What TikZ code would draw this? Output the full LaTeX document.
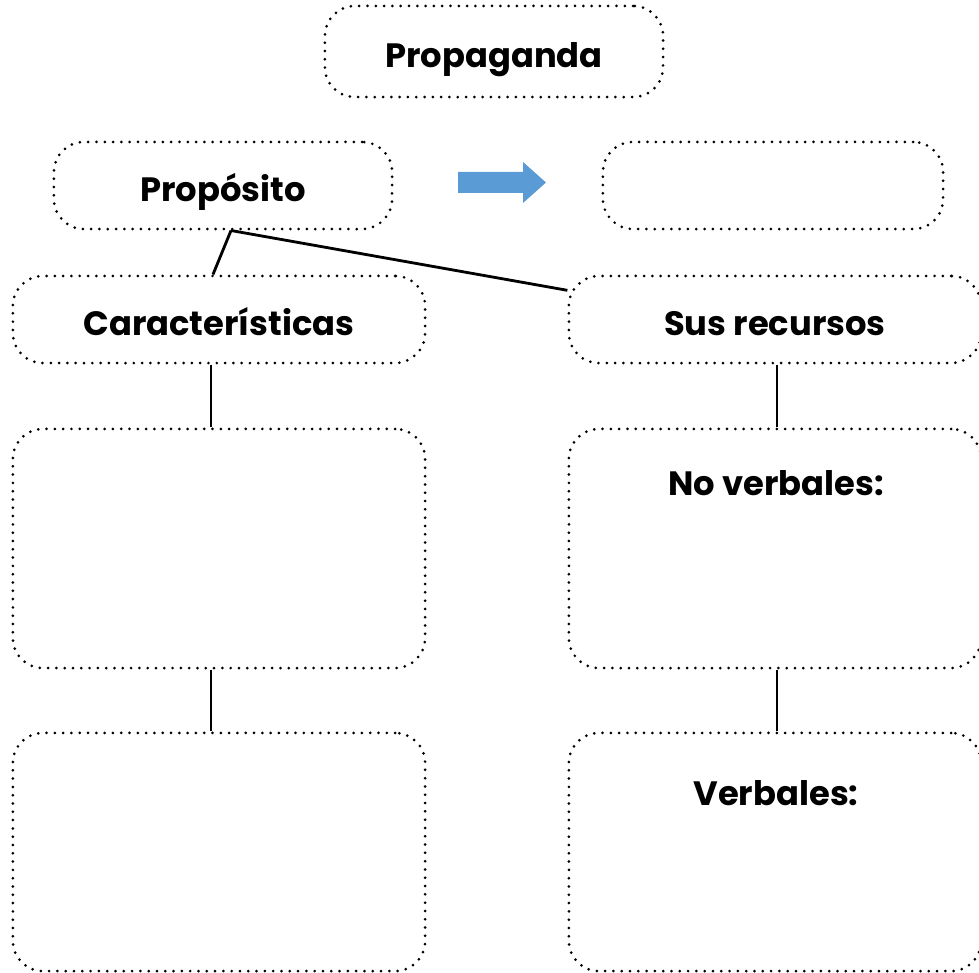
\documentclass[tikz,border=0pt]{standalone}
\usepackage{fontspec}
\setmainfont{Poppins}
\definecolor{arrowblue}{RGB}{91,155,213}
\tikzset{
  lbl/.style={font=\fontsize{9.6pt}{11pt}\selectfont\bfseries,
    text height=9pt, text depth=0pt, inner sep=0pt},
  bubble/.style={lbl, draw, line width=0.85pt, line cap=round,
    dash pattern=on 0pt off 2.36pt, rounded corners=0.3cm},
  wide/.style={bubble, minimum width=4.12cm},
  link/.style={line width=0.8pt}
}
\begin{document}
\begin{tikzpicture}[x=0.01cm,y=-0.01cm]
            \useasboundingbox (0,0) rectangle (979,973);
            \node[bubble, minimum width=3.38cm, minimum height=0.91cm] (prop) at (494,51.5) {Propaganda};
            \node[bubble, minimum width=3.38cm, minimum height=0.87cm] (purp) at (223,185.5) {Propósito};
            \node[bubble, minimum width=3.40cm, minimum height=0.87cm] (blank) at (773,185.5) {};
            \node[wide, minimum height=0.87cm] (car) at (219,319.5) {Características};
            \node[wide, minimum height=0.87cm] (sus) at (775,319.5) {Sus recursos};
            \node[wide, minimum height=2.39cm] (lb1) at (219,548.5) {};
            \node[wide, minimum height=2.39cm] (rb1) at (775,548.5) {};
            \node[wide, minimum height=2.38cm] (lb2) at (219,852) {};
            \node[wide, minimum height=2.38cm] (rb2) at (775,852) {};
            \node[lbl] (nv) at (776,479.5) {No verbales:};
            \node[lbl] (vb) at (776,790) {Verbales:};
            % blue arrow
            \fill[arrowblue] (458,172) -- (523,172) -- (523,162) -- (546,182.5)
              -- (523,203) -- (523,193) -- (458,193) -- cycle;
            \coordinate (fork) at ([xshift=0.08cm]purp.south);
            \draw[link] (fork) -- ([xshift=-0.06cm]car.north);
            \draw[link] (fork) -- (sus.172);
            \draw[link] ([xshift=-0.08cm]car.south) -- ([xshift=-0.08cm]lb1.north);
            \draw[link] ([xshift=-0.08cm]lb1.south) -- ([xshift=-0.08cm]lb2.north);
            \draw[link] ([xshift=0.02cm]sus.south) -- ([xshift=0.02cm]rb1.north);
            \draw[link] ([xshift=0.02cm]rb1.south) -- ([xshift=0.02cm]rb2.north);
        \end{tikzpicture}
\end{document}
